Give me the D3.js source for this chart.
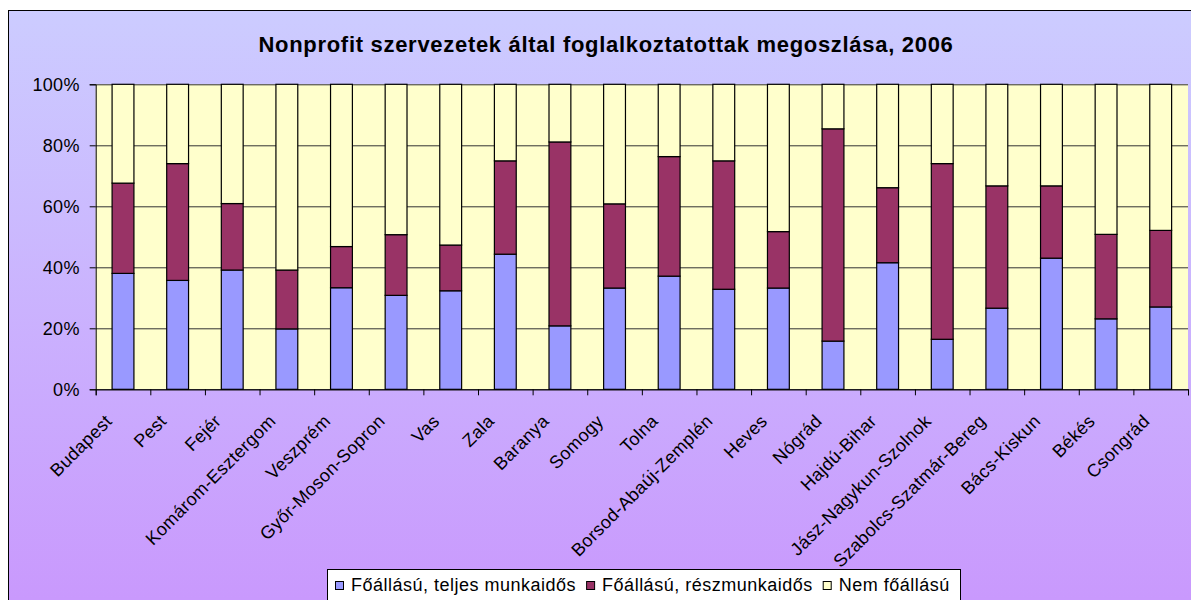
<!DOCTYPE html>
<meta charset="utf-8">
<script src="https://d3js.org/d3.v7.min.js"></script>
<style>
  body { margin: 0; background: #fff; }
  text { font-family: "Liberation Sans", Arial, sans-serif; }
</style>
<div id="my_chart"></div>
<script>

// Data (percent of employees)
var categories = ["Budapest", "Pest", "Fejér", "Komárom-Esztergom", "Veszprém", "Győr-Moson-Sopron",
  "Vas", "Zala", "Baranya", "Somogy", "Tolna", "Borsod-Abaúj-Zemplén", "Heves", "Nógrád",
  "Hajdú-Bihar", "Jász-Nagykun-Szolnok", "Szabolcs-Szatmár-Bereg", "Bács-Kiskun", "Békés", "Csongrád"]
var fullTime = [38.0, 35.7, 39.1, 19.8, 33.3, 30.8, 32.3, 44.3, 20.8, 33.2, 37.1, 32.8, 33.2, 15.8, 41.5, 16.4, 26.6, 43.0, 23.1, 27.0]
var partTime = [29.6, 38.3, 21.8, 19.3, 13.5, 19.9, 15.0, 30.6, 60.3, 27.6, 39.2, 42.1, 18.5, 69.6, 24.6, 57.6, 40.1, 23.7, 27.7, 25.1]
var notMain  = [32.4, 26.0, 39.1, 60.9, 53.2, 49.3, 52.7, 25.1, 18.9, 39.2, 23.7, 25.1, 48.3, 14.6, 33.9, 26.0, 33.3, 33.3, 49.2, 47.9]
var seriesNames = ["Főállású, teljes munkaidős", "Főállású, részmunkaidős", "Nem főállású"]
var seriesColors = ["#9999ff", "#993366", "#ffffcc"]
var yTicks = [0, 0.2, 0.4, 0.6, 0.8, 1]
var title = "Nonprofit szervezetek által foglalkoztatottak megoszlása, 2006"

var W = 1191, H = 600
var plot = {left: 95.7, right: 1188, top: 84.3, bottom: 389.3}

var svg = d3.select("#my_chart")
  .append("svg")
    .attr("width", W)
    .attr("height", H)

// background gradient of the chart area
var grad = svg.append("defs").append("linearGradient")
    .attr("id", "bg").attr("x1", 0).attr("y1", 0).attr("x2", 0).attr("y2", 1)
grad.append("stop").attr("offset", "0%").attr("stop-color", "#ccccff")
grad.append("stop").attr("offset", "100%").attr("stop-color", "#c998fd")

svg.append("rect")
    .attr("x", 8.5).attr("y", 10.5)
    .attr("width", W).attr("height", H)
    .attr("fill", "url(#bg)")
    .attr("stroke", "#000")

// title
svg.append("text")
    .attr("x", 606)
    .attr("y", 52)
    .attr("text-anchor", "middle")
    .attr("font-size", "22px")
    .attr("font-weight", "bold")
    .attr("letter-spacing", "0.7px")
    .text(title)

// rows for the stack
var keys = ["full", "part", "not"]
var rows = categories.map(function(c, i) {
  return {cat: c, full: fullTime[i], part: partTime[i], not: notMain[i]}
})
var stacked = d3.stack().keys(keys).offset(d3.stackOffsetExpand)(rows)

var x = d3.scaleBand()
  .domain(categories)
  .range([plot.left, plot.right])
  .paddingInner(0.6)
  .paddingOuter(0.3)

var xEdges = d3.scaleLinear()
  .domain([0, categories.length])
  .range([plot.left, plot.right])

var y = d3.scaleLinear()
  .domain([0, 1])
  .range([plot.bottom, plot.top])

// plot background
svg.append("rect")
    .attr("x", plot.left).attr("y", plot.top)
    .attr("width", plot.right - plot.left)
    .attr("height", plot.bottom - plot.top)
    .attr("fill", "#ffffcc")

// gridlines
svg.append("g")
    .attr("transform", "translate(" + plot.left + ",0)")
    .call(d3.axisLeft(y).tickValues(yTicks).tickSize(-(plot.right - plot.left)).tickFormat(""))
    .call(function(g) { g.select(".domain").remove() })
    .selectAll("line")
      .attr("stroke", "#333")

// bars
svg.append("g")
  .selectAll("g")
  .data(stacked)
  .enter()
  .append("g")
    .attr("fill", function(d, i) { return seriesColors[i] })
  .selectAll("rect")
  .data(function(d) { return d })
  .enter()
  .append("rect")
    .attr("x", function(d) { return x(d.data.cat) })
    .attr("y", function(d) { return y(d[1]) })
    .attr("width", x.bandwidth())
    .attr("height", function(d) { return y(d[0]) - y(d[1]) })
    .attr("stroke", "#000")
    .attr("stroke-width", 1.2)

// y axis
var yAxis = svg.append("g")
    .attr("transform", "translate(" + plot.left + ",0)")
    .call(d3.axisLeft(y).tickValues(yTicks).tickSize(6).tickPadding(10).tickFormat(d3.format(".0%")))
yAxis.select(".domain").attr("stroke", "#000")
yAxis.selectAll("text")
    .attr("font-size", "18px")
    .attr("letter-spacing", "0.3px")
    .attr("fill", "#000")

// x axis (ticks between categories)
var xAxis = svg.append("g")
    .attr("transform", "translate(0," + plot.bottom + ")")
    .call(d3.axisBottom(xEdges).ticks(categories.length).tickSize(6).tickSizeOuter(6).tickFormat(""))
xAxis.select(".domain").attr("stroke", "#000")

// rotated category labels
svg.append("g")
  .selectAll("text")
  .data(categories)
  .enter()
  .append("text")
    .attr("transform", function(d) {
      return "translate(" + (x(d) + x.bandwidth() / 2 - 10) + "," + (plot.bottom + 33) + ") rotate(-45)"
    })
    .attr("text-anchor", "end")
    .attr("font-size", "18px")
    .attr("letter-spacing", "0.3px")
    .text(function(d) { return d })

// legend
var legend = svg.append("g")
legend.append("rect")
    .attr("x", 327.5).attr("y", 569.5)
    .attr("width", 633).attr("height", 40)
    .attr("fill", "#fff")
    .attr("stroke", "#000")
var lx = 335
seriesNames.forEach(function(name, i) {
  legend.append("rect")
      .attr("x", lx + 0.5).attr("y", 581.5)
      .attr("width", 8).attr("height", 8)
      .attr("fill", seriesColors[i])
      .attr("stroke", "#000")
  var t = legend.append("text")
      .attr("x", lx + 16)
      .attr("y", 591)
      .attr("font-size", "18px")
      .attr("letter-spacing", "0.5px")
      .text(name)
  lx = lx + 16 + t.node().getComputedTextLength() + 10
})

</script>
